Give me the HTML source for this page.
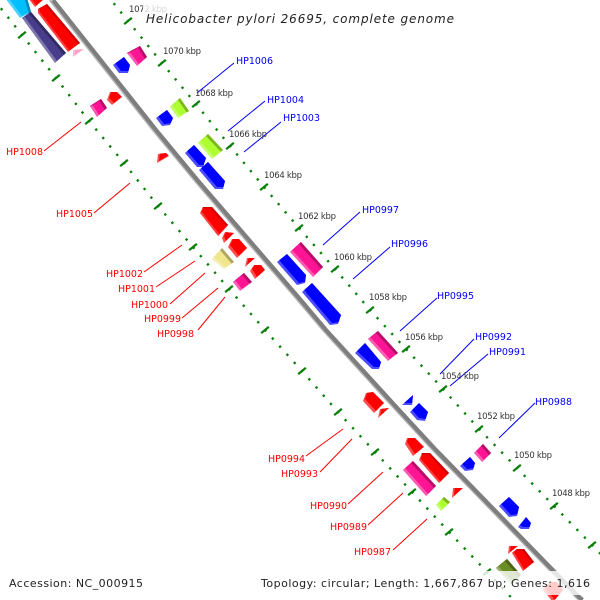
<!DOCTYPE html>
<html><head><meta charset="utf-8"><style>
html,body{margin:0;padding:0;background:#fff}
svg{display:block}
text{font-family:"DejaVu Sans","Liberation Sans",sans-serif}
</style></head><body>
<svg width="600" height="600" viewBox="0 0 600 600" xmlns="http://www.w3.org/2000/svg">
<defs>
<filter id="a" x="-20%" y="-20%" width="140%" height="140%" color-interpolation-filters="sRGB">
<feComponentTransfer in="SourceGraphic" result="L"><feFuncR type="linear" slope=".7" intercept=".3"/><feFuncG type="linear" slope=".7" intercept=".3"/><feFuncB type="linear" slope=".7" intercept=".3"/></feComponentTransfer>
<feOffset in="SourceGraphic" dx="2" dy="-2" result="o"/>
<feComposite in="o" in2="SourceGraphic" operator="in" result="m"/>
<feMerge><feMergeNode in="L"/><feMergeNode in="m"/></feMerge>
</filter>
<filter id="b" x="-20%" y="-20%" width="140%" height="140%" color-interpolation-filters="sRGB">
<feComponentTransfer in="SourceGraphic" result="L"><feFuncR type="linear" slope=".7" intercept=".3"/><feFuncG type="linear" slope=".7" intercept=".3"/><feFuncB type="linear" slope=".7" intercept=".3"/></feComponentTransfer>
<feOffset in="SourceGraphic" dx="2" dy="-2" result="o"/>
<feComposite in="o" in2="SourceGraphic" operator="in" result="m"/>
<feComponentTransfer in="SourceGraphic" result="D"><feFuncR type="linear" slope=".72"/><feFuncG type="linear" slope=".72"/><feFuncB type="linear" slope=".72"/></feComponentTransfer>
<feOffset in="SourceGraphic" dx="-2" dy="2" result="o2"/>
<feComposite in="D" in2="o2" operator="out" result="s"/>
<feMerge><feMergeNode in="L"/><feMergeNode in="m"/><feMergeNode in="s"/></feMerge>
</filter>
<filter id="c" x="-20%" y="-20%" width="140%" height="140%" color-interpolation-filters="sRGB">
<feComponentTransfer in="SourceGraphic" result="L"><feFuncR type="linear" slope=".75" intercept=".25"/><feFuncG type="linear" slope=".75" intercept=".25"/><feFuncB type="linear" slope=".75" intercept=".25"/></feComponentTransfer>
<feOffset in="SourceGraphic" dx="1.500" dy="-1.500" result="o"/>
<feComposite in="o" in2="SourceGraphic" operator="in" result="m"/>
<feComponentTransfer in="SourceGraphic" result="D"><feFuncR type="linear" slope=".82"/><feFuncG type="linear" slope=".82"/><feFuncB type="linear" slope=".82"/></feComponentTransfer>
<feOffset in="SourceGraphic" dx="-1.500" dy="1.500" result="o2"/>
<feComposite in="D" in2="o2" operator="out" result="s"/>
<feMerge><feMergeNode in="L"/><feMergeNode in="m"/><feMergeNode in="s"/></feMerge>
</filter>
</defs>
<rect width="600" height="600" fill="#fff"/>

<!-- central bar -->
<polyline points="50,0 153,130 196,182 296,298 323,330 396,410 433,450 576,597 579.500,600" fill="none" stroke="#b4b4b4" stroke-width="2.400"/>
<polyline points="53,0 156,130 199,182 299,298 326,330 399,410 436,450 579,597 582.500,600" fill="none" stroke="#7e7e7e" stroke-width="4.200"/>

<!-- tick rows -->
<g fill="none" stroke="#0a800a">
<polyline pathLength="750" stroke-dasharray="2.100 7.900" stroke-dashoffset="1.050" stroke-width="2.400" points="94,-21 128,21 162,63 196,104 230,146 264,187 299,228 335,269 370,310 406,349 443,389 479,429 517,468 554,506 592,545 630,584"/>
<polyline pathLength="750" stroke-dasharray="2.100 7.900" stroke-dashoffset="1.050" stroke-width="2.400" points="-12,-8 22,35 56,78 89,121 124,163 158,206 193,247 229,289 265,330 302,371 338,412 375,452 412,492 449,532 487,572 525,612"/>
<path stroke-width="2.200" stroke-linecap="square" d="M125 23.5l6-5M159 65.500l6-5M193 106.500l6-5M227 148.500l6-5M261 189.500l6-5M296 230.500l6-5M332 271.500l6-5M367 312.500l6-5M403 351.500l6-5M440 391.500l6-5M476 431.500l6-5M514 470.500l6-5M551 508.500l6-5M589 547.500l6-5M19 37.500l6-5M53 80.500l6-5M86 123.500l6-5M121 165.500l6-5M155 208.500l6-5M190 249.500l6-5M226 291.500l6-5M262 332.500l6-5M299 373.500l6-5M335 414.500l6-5M372 454.500l6-5M409 494.500l6-5M446 534.500l6-5M484 574.500l6-5"/>
</g>

<!-- rectangular genes -->
<g filter="url(#b)">
<polygon fill="#00bfff" points="5,-2 27,-2 31,12 20,18"/>
<polygon fill="#483d8b" points="22,18 31,12 66,53 55,63"/>
<polygon fill="#ff1493" points="127,53 140,46 147,57 137,66"/>
<polygon fill="#adff2f" points="170,107 180,98 189,111 178,118"/>
<polygon fill="#ff1493" points="90,106 101,99 107,108 97,117"/>
<polygon fill="#adff2f" points="198,143 208,134 223,150 212,159"/>
<polygon fill="#f0e68c" points="212,259 222,248 234,262 224,269"/>
<polygon fill="#ff1493" points="233,282 244,273 252,282 240,291"/>
<polygon fill="#ff1493" points="290,252 301,242 323,267 313,277"/>
<polygon fill="#ff1493" points="368,339 378,331 398,353 388,361"/>
<polygon fill="#ff1493" points="403,470 413,461 436,486 426,496"/>
<polygon fill="#adff2f" points="436,505 444,497 450,502 441,511"/>
<polygon fill="#ff1493" points="474,453 483,444 491,453 482,462"/>
<polygon fill="#6b8e23" points="496,568 507,559 521,575 512,585"/>
</g>
<g filter="url(#c)">
<polygon fill="#ff0000" points="28,-2 45,-2 35,7"/>
<polygon fill="#ff0000" points="38,9 47,4 80,43 68,52 38,13"/>
<polygon fill="#ff0000" points="200,213 203,207 212,207 228,225 218,236"/>
<polygon fill="#ff0000" points="419,460 422,453 430,453 449,473 439,483"/>
<polygon fill="#ff0000" points="512,553 517,549 524,549 534,562 523,571"/>
</g>
<!-- arrow genes -->
<g filter="url(#a)">
<polygon fill="#ffa0c8" points="73,50 84,49 73,57"/>
<polygon fill="#0000ff" points="113,65 124,57 130,65 128,73 119,73"/>
<polygon fill="#0000ff" points="156,118 167,110 173,118 170,125 162,126"/>
<polygon fill="#ff0000" points="107,100 110,92 117,92 122,97 112,105"/>
<polygon fill="#ff0000" points="157,163 158,154 166,153 169,156"/>
<polygon fill="#0000ff" points="185,153 194,145 206,158 203,167 197,167"/>
<polygon fill="#0000ff" points="199,170 208,162 225,181 223,189 215,189"/>
<polygon fill="#ff0000" points="222,238 225,232 234,233 224,243"/>
<polygon fill="#ff0000" points="228,247 232,239 239,239 247,248 237,258"/>
<polygon fill="#ff0000" points="245,267 247,258 255,258"/>
<polygon fill="#ff0000" points="250,271 254,265 261,265 265,270 255,279"/>
<polygon fill="#0000ff" points="277,262 287,254 306,275 305,283 297,285"/>
<polygon fill="#0000ff" points="302,292 312,283 341,315 338,324 330,325"/>
<polygon fill="#0000ff" points="355,353 365,343 381,362 379,369 372,369"/>
<polygon fill="#ff0000" points="363,401 366,393 373,392 384,403 374,413"/>
<polygon fill="#ff0000" points="378,418 380,409 389,408"/>
<polygon fill="#0000ff" points="402,405 413,395 412,405"/>
<polygon fill="#0000ff" points="410,412 419,403 428,412 425,421 417,420"/>
<polygon fill="#ff0000" points="405,444 407,438 415,438 424,447 413,456"/>
<polygon fill="#ff0000" points="452,498 453,488 463,488"/>
<polygon fill="#0000ff" points="460,466 470,457 475,463 473,470 465,471"/>
<polygon fill="#0000ff" points="499,506 509,497 519,507 517,516 509,517"/>
<polygon fill="#0000ff" points="518,527 526,517 531,523 529,529 521,529"/>
<polygon fill="#ff0000" points="508,554 509,546 518,546"/>
<polygon fill="#ff0000" points="543,590 550,582 557,582 563,590 553,602"/>
</g>

<!-- leaders -->
<path fill="none" stroke="#0000ff" stroke-width="1" d="M197 93L234 63M228 131L265 101M244 152L281 122M323 245L360 212M353 279L390 247M400 331L437 298M440 374L474 339M450 386L488 354M499 438L535 403"/>
<path fill="none" stroke="#ff0000" stroke-width="1" d="M44 151L81 122M94 213L130 183M144 272L182 245M156 287L195 261M170 304L205 273M182 318L218 288M198 330L225 297M306 456L343 429M320 472L352 439M348 504L383 472M368 525L403 493M393 550L427 519"/>

<!-- kbp labels -->
<g font-size="8.500" fill="#333">
<text x="129" y="12" textLength="38" lengthAdjust="spacing">1072 kbp</text>
<text x="163" y="54" textLength="38" lengthAdjust="spacing">1070 kbp</text>
<text x="195" y="96" textLength="38" lengthAdjust="spacing">1068 kbp</text>
<text x="229" y="137" textLength="38" lengthAdjust="spacing">1066 kbp</text>
<text x="264" y="178" textLength="38" lengthAdjust="spacing">1064 kbp</text>
<text x="298" y="219" textLength="38" lengthAdjust="spacing">1062 kbp</text>
<text x="334" y="260" textLength="38" lengthAdjust="spacing">1060 kbp</text>
<text x="369" y="300" textLength="38" lengthAdjust="spacing">1058 kbp</text>
<text x="405" y="340" textLength="38" lengthAdjust="spacing">1056 kbp</text>
<text x="441" y="379" textLength="38" lengthAdjust="spacing">1054 kbp</text>
<text x="477" y="419" textLength="38" lengthAdjust="spacing">1052 kbp</text>
<text x="514" y="458" textLength="38" lengthAdjust="spacing">1050 kbp</text>
<text x="552" y="496" textLength="38" lengthAdjust="spacing">1048 kbp</text>
</g>

<!-- overlays -->
<rect x="143" y="0" width="314" height="28" fill="#fff" fill-opacity=".8"/>
<rect x="258" y="571" width="335" height="24" fill="#fff" fill-opacity=".8"/>

<!-- gene labels -->
<g font-size="10" fill="#0000ff">
<text x="236" y="64" textLength="37" lengthAdjust="spacingAndGlyphs">HP1006</text>
<text x="267" y="103" textLength="37" lengthAdjust="spacingAndGlyphs">HP1004</text>
<text x="283" y="121" textLength="37" lengthAdjust="spacingAndGlyphs">HP1003</text>
<text x="362" y="213" textLength="37" lengthAdjust="spacingAndGlyphs">HP0997</text>
<text x="391" y="247" textLength="37" lengthAdjust="spacingAndGlyphs">HP0996</text>
<text x="437" y="299" textLength="37" lengthAdjust="spacingAndGlyphs">HP0995</text>
<text x="475" y="340" textLength="37" lengthAdjust="spacingAndGlyphs">HP0992</text>
<text x="489" y="355" textLength="37" lengthAdjust="spacingAndGlyphs">HP0991</text>
<text x="535" y="405" textLength="37" lengthAdjust="spacingAndGlyphs">HP0988</text>
</g>
<g font-size="10" fill="#ff0000">
<text x="6" y="155" textLength="37" lengthAdjust="spacingAndGlyphs">HP1008</text>
<text x="56" y="217" textLength="37" lengthAdjust="spacingAndGlyphs">HP1005</text>
<text x="106" y="277" textLength="37" lengthAdjust="spacingAndGlyphs">HP1002</text>
<text x="118" y="292" textLength="37" lengthAdjust="spacingAndGlyphs">HP1001</text>
<text x="131" y="308" textLength="37" lengthAdjust="spacingAndGlyphs">HP1000</text>
<text x="144" y="322" textLength="37" lengthAdjust="spacingAndGlyphs">HP0999</text>
<text x="157" y="337" textLength="37" lengthAdjust="spacingAndGlyphs">HP0998</text>
<text x="268" y="462" textLength="37" lengthAdjust="spacingAndGlyphs">HP0994</text>
<text x="281" y="477" textLength="37" lengthAdjust="spacingAndGlyphs">HP0993</text>
<text x="310" y="509" textLength="37" lengthAdjust="spacingAndGlyphs">HP0990</text>
<text x="330" y="530" textLength="37" lengthAdjust="spacingAndGlyphs">HP0989</text>
<text x="354" y="555" textLength="37" lengthAdjust="spacingAndGlyphs">HP0987</text>
</g>

<!-- title and footer -->
<text x="146" y="23" font-size="12" font-style="italic" fill="#222" textLength="308" lengthAdjust="spacing">Helicobacter pylori 26695, complete genome</text>
<text x="9" y="587" font-size="11" fill="#222" textLength="134" lengthAdjust="spacing">Accession: NC_000915</text>
<text x="261" y="587" font-size="11" fill="#222" textLength="329" lengthAdjust="spacing">Topology: circular; Length: 1,667,867 bp; Genes: 1,616</text>
</svg>
</body></html>
